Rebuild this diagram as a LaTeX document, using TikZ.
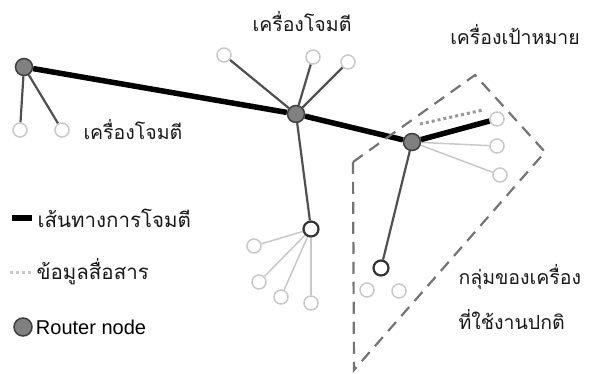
\documentclass[tikz,border=0pt]{standalone}
\usepackage{fontspec}
\setmainfont{Liberation Sans}
\newfontfamily\thaifont[Script=Thai]{Loma}
\usepackage{tikz}
\usetikzlibrary{positioning}

\definecolor{routergray}{HTML}{808080}
\definecolor{darkline}{HTML}{505050}
\definecolor{lightline}{HTML}{C8C8C8}
\definecolor{zonegray}{HTML}{747474}

\begin{document}
\begin{tikzpicture}[x=1pt,y=-1pt]
\tikzset{router/.style = {circle, draw=black!75, line width=1.5pt,
  fill=routergray, minimum size=17pt, inner sep=0pt},
  subrouter/.style = {circle, draw=black!80, line width=2.2pt,
  fill=white, minimum size=15pt, inner sep=0pt},
  host/.style = {circle, draw=lightline, line width=1.5pt,
  fill=white, minimum size=14pt, inner sep=0pt},
  link/.style = {draw=darkline, line width=2.2pt},
  weaklink/.style = {draw=lightline, line width=1.5pt},
  attack/.style = {draw=black, line width=5.5pt},
  traffic/.style = {draw=gray!80, line width=3pt, dash pattern=on 3pt off 3pt},
  thailabel/.style = {font=\thaifont\fontsize{19.5}{22}\selectfont, text=black!90}}
\pgfdeclarelayer{background}
\pgfsetlayers{background,main}

  \useasboundingbox (0,0) rectangle (599,373);

  % routers
  \node[router] (rleft) at (24,67) {};
  \node[router] (rmid) at (296,114) {};
  \node[router] (rright) at (412,142) {};

  % hosts
  \node[host] (hleftA) at (20,130) {};
  \node[host] (hleftB) at (62,130) {};
  \node[host] (htopA) at (224,55) {};
  \node[host] (htopB) at (313,57) {};
  \node[host] (htopC) at (348,62) {};
  \node[host] (target) at (497,119) {};
  \node[host] (hrightA) at (497,146) {};
  \node[host] (hrightB) at (500,175) {};

  \node[subrouter] (subA) at (311,229) {};
  \node[host] (hsubA) at (254,246) {};
  \node[host] (hsubB) at (259,282) {};
  \node[host] (hsubC) at (281,297) {};
  \node[host] (hsubD) at (311,303) {};

  \node[subrouter] (subB) at (381,268) {};
  \node[host] (hsubE) at (367,290) {};
  \node[host] (hsubF) at (399,291) {};

  \coordinate (sniffstart) at (420,124);
  \coordinate (sniffend) at (483,110);

  \begin{pgfonlayer}{background}
    \draw[link] (rleft) -- (hleftA);
    \draw[link] (rleft) -- (hleftB);
    \draw[link] (rmid) -- (htopA);
    \draw[link] (rmid) -- (htopB);
    \draw[link] (rmid) -- (htopC);
    \draw[link] (rmid) -- (subA);
    \draw[link] (rright) -- (subB);
    \draw[weaklink] (rright) -- (hrightA);
    \draw[weaklink] (rright) -- (hrightB);
    \draw[weaklink] (subA) -- (hsubA);
    \draw[weaklink] (subA) -- (hsubB);
    \draw[weaklink] (subA) -- (hsubC);
    \draw[weaklink] (subA) -- (hsubD);
    % attack path
    \draw[attack] (rleft) -- (rmid) -- (rright) -- (target);
    \draw[traffic] (sniffstart) -- (sniffend);
    % normal group
    \draw[zonegray, line width=2.2pt, dash pattern=on 12pt off 8pt]
      (353,162) -- (475,75) -- (545,152) -- (354,370) -- cycle;
  \end{pgfonlayer}

  % labels
  \node[thailabel] (lbltop) at (302,22) {เครื่องโจมตี};
  \node[thailabel, anchor=west] (lblleft) at (80,130) {เครื่องโจมตี};
  \node[thailabel] (lbltarget) at (515,35) {เครื่องเป้าหมาย};
  \node[thailabel, anchor=west] (lblgroupA) at (455,277) {กลุ่มของเครื่อง};
  \node[thailabel, anchor=west] (lblgroupB) at (455,320) {ที่ใช้งานปกติ};

  % legend
  \coordinate (keyattackA) at (12,218);
  \coordinate (keyattackB) at (32,218);
  \draw[attack] (keyattackA) -- (keyattackB);
  \node[thailabel, anchor=west, font=\thaifont\fontsize{20.5}{24}\selectfont]
    (keyattack) at (34,218) {เส้นทางการโจมตี};
  \coordinate (keytrafficA) at (10,272);
  \coordinate (keytrafficB) at (31,272);
  \draw[traffic, draw=lightline] (keytrafficA) -- (keytrafficB);
  \node[thailabel, anchor=west, font=\thaifont\fontsize{20.5}{24}\selectfont]
    (keytraffic) at (33,272) {ข้อมูลสื่อสาร};
  \node[router, minimum size=18pt] (keyrouter) at (23,327) {};
  \node[anchor=west, font=\fontsize{20}{24}\selectfont, inner sep=2pt,
    right=1pt of keyrouter] (keyroutertext) {Router node};

\end{tikzpicture}
\end{document}
